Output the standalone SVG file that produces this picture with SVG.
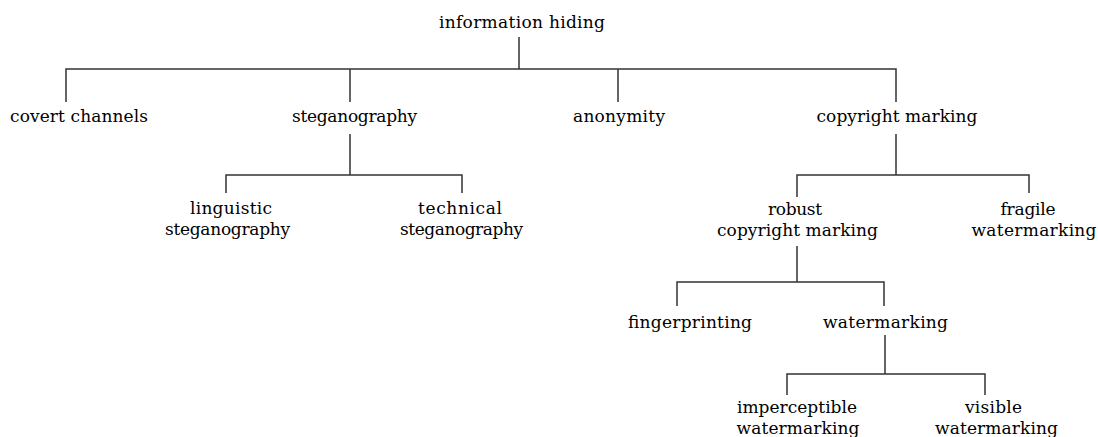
<svg xmlns="http://www.w3.org/2000/svg" width="1098" height="437" viewBox="0 0 1098 437">
<style>
text{font-family:"DejaVu Serif","Liberation Serif",serif;font-size:17px;fill:#000;text-anchor:middle}
.c path{fill:none;stroke:#333;stroke-width:1.5}
</style>
<rect width="1098" height="437" fill="#fff"/>
<g class="c" id="connectors">
<path d="M519 37V69M66 102V69H896V102M350 69V102M618 69V102"/>
<path d="M350 134V175M226 193V175H462V193"/>
<path d="M896 134V175M797 197V175H1029V193"/>
<path d="M797 246V282M677 306V282H884V306"/>
<path d="M885 335V374M787 395V374H985V395"/>
</g>
<g id="n-info"><text x="522" y="28" textLength="166">information hiding</text></g>
<g id="n-covert"><text x="79" y="122" textLength="138">covert channels</text></g>
<g id="n-steg"><text x="354.5" y="122" textLength="125">steganography</text></g>
<g id="n-anon"><text x="619" y="122" textLength="92">anonymity</text></g>
<g id="n-copy"><text x="897" y="122" textLength="161">copyright marking</text></g>
<g id="n-ling"><text x="231" y="214" textLength="82">linguistic</text><text x="227.5" y="235" textLength="125">steganography</text></g>
<g id="n-tech"><text x="460" y="214" textLength="84">technical</text><text x="461.5" y="235" textLength="123">steganography</text></g>
<g id="n-robust"><text x="795" y="215" textLength="54">robust</text><text x="797.5" y="236" textLength="161">copyright marking</text></g>
<g id="n-fragile"><text x="1028" y="215" textLength="55">fragile</text><text x="1034" y="236" textLength="125">watermarking</text></g>
<g id="n-finger"><text x="690" y="328" textLength="124">fingerprinting</text></g>
<g id="n-water"><text x="885.5" y="328" textLength="125">watermarking</text></g>
<g id="n-imper"><text x="797" y="413" textLength="120">imperceptible</text><text x="798" y="434" textLength="123">watermarking</text></g>
<g id="n-visible"><text x="993.5" y="413" textLength="57">visible</text><text x="996.5" y="434" textLength="123">watermarking</text></g>
</svg>
